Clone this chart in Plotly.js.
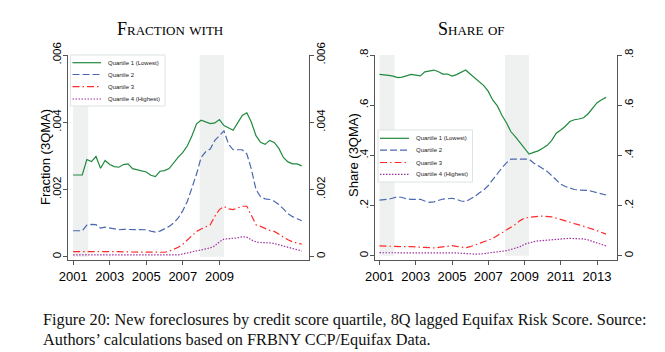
<!DOCTYPE html>
<html><head><meta charset="utf-8">
<script src="https://cdn.plot.ly/plotly-3.0.1.min.js"></script>
<style>html,body{margin:0;padding:0;background:#fff}#chart{width:665px;height:352px}</style>
</head><body><div id="chart"></div>
<script>
// quarterly dates 2001Q1 .. 2013Q3
const quarters = Array.from({length: 51}, (_, i) => 2001 + i / 4);

const seriesNames = ['Quartile 1 (Lowest)', 'Quartile 2', 'Quartile 3', 'Quartile 4 (Highest)'];
const seriesColors = ['#1f8a3e', '#4a67b0', '#ff2a2a', '#a030a0'];
const seriesDashes = ['solid', '7px,3px', '7px,3px,1.5px,3px', '1.5px,1.5px'];

const fracQ1 = [.00243,.00243,.00243,.00289,.00283,.00298,.00263,.00286,.00274,.00268,.00266,.00274,
 .00276,.00262,.00258,.00256,.00252,.00242,.00238,.00254,.00256,.00262,.00280,.00296,
 .00310,.00330,.00360,.00395,.00406,.00402,.00396,.00398,.00408,.00390,.00384,.00376,
 .00398,.00420,.00428,.00400,.00360,.00340,.00334,.00346,.00340,.00322,.00295,.00282,
 .00276,.00276,.00270];
const fracQ2 = [.00077,.00077,.00077,.00094,.00096,.00095,.00085,.00088,.00086,.00083,.00080,.00081,
 .00081,.00080,.00080,.00080,.00080,.00076,.00073,.00076,.00082,.00090,.00100,.00115,
 .00137,.00165,.00205,.00246,.00295,.00312,.00320,.00346,.00360,.00374,.00335,.00318,
 .00318,.00318,.00306,.00260,.00200,.00178,.00172,.00170,.00165,.00155,.00142,.00128,
 .00119,.00112,.00107];
const fracQ3 = [.00015,.00015,.00016,.00017,.00017,.00017,.00016,.00016,.00016,.00015,.00015,.00014,
 .00014,.00014,.00014,.00014,.00013,.00013,.00013,.00013,.00013,.00016,.00022,.00028,
 .00037,.00050,.00063,.00075,.00082,.00088,.00095,.00120,.00140,.00149,.00142,.00140,
 .00145,.00150,.00150,.00120,.00095,.00090,.00083,.00078,.00075,.00066,.00058,.00050,
 .00044,.00040,.00037];
const fracQ4 = [.00005,.00005,.00005,.00005,.00005,.00005,.00005,.00005,.00004,.00004,.00004,.00004,
 .00004,.00004,.00004,.00004,.00004,.00004,.00004,.00003,.00003,.00003,.00003,.00005,
 .00008,.00011,.00013,.00016,.00019,.00022,.00026,.00032,.00044,.00052,.00053,.00054,
 .00056,.00059,.00058,.00050,.00044,.00042,.00042,.00041,.00039,.00035,.00032,.00027,
 .00023,.00019,.00017];

const shareQ1 = [.723,.722,.719,.716,.710,.712,.718,.723,.720,.717,.733,.738,
 .740,.733,.724,.724,.716,.722,.730,.740,.724,.708,.693,.678,
 .655,.620,.597,.560,.530,.494,.474,.450,.428,.405,.412,.418,
 .428,.440,.460,.488,.501,.516,.535,.542,.545,.550,.565,.590,
 .610,.622,.631];
const shareQ2 = [.222,.222,.225,.230,.235,.232,.226,.225,.225,.225,.218,.213,
 .215,.222,.226,.227,.229,.225,.218,.216,.225,.236,.250,.262,
 .280,.305,.325,.350,.370,.385,.385,.384,.386,.385,.370,.360,
 .348,.336,.318,.300,.285,.276,.270,.264,.262,.262,.260,.256,
 .252,.246,.242];
const shareQ3 = [.039,.038,.037,.036,.036,.036,.036,.036,.036,.035,.033,.032,
 .031,.033,.036,.038,.040,.037,.033,.032,.036,.042,.047,.055,
 .062,.069,.080,.092,.103,.112,.125,.140,.150,.153,.156,.157,
 .158,.158,.155,.150,.144,.137,.131,.128,.123,.118,.114,.106,
 .100,.092,.086];
const shareQ4 = [.012,.012,.012,.012,.012,.013,.013,.012,.012,.011,.011,.011,
 .011,.011,.011,.011,.011,.011,.010,.010,.008,.006,.006,.008,
 .011,.013,.015,.017,.020,.025,.030,.036,.046,.052,.056,.059,
 .061,.063,.065,.066,.067,.068,.069,.069,.069,.067,.063,.058,
 .052,.045,.039];

const recessions = [[2001.0, 2001.83], [2007.92, 2009.25]];

const fracTickVals = [0, .002, .004, .006];
const fracTickText = ['0', '.002', '.004', '.006'];
const shareTickVals = [0, .2, .4, .6, .8];
const shareTickText = ['0', '.2', '.4', '.6', '.8'];
const fracYearTicks = [2001, 2003, 2005, 2007, 2009];
const shareYearTicks = [2001, 2003, 2005, 2007, 2009, 2011, 2013];

const panelTitles = ['Fraction with', 'Share of'];
const yTitles = ['Fraction (3QMA)', 'Share (3QMA)'];
const caption1 = 'Figure 20: New foreclosures by credit score quartile, 8Q lagged Equifax Risk Score. Source:';
const caption2 = 'Authors\u2019 calculations based on FRBNY CCP/Equifax Data.';

const W = 665, H = 352;
const px = x => x / W, py = y => 1 - y / H;
const NARROW = '"Liberation Sans Narrow", "Liberation Sans", Arial, sans-serif';
const SANS = '"Liberation Sans", Arial, sans-serif';
const SERIF = '"Liberation Serif", "DejaVu Serif", serif';

const fracSeries = [fracQ1, fracQ2, fracQ3, fracQ4];
const shareSeries = [shareQ1, shareQ2, shareQ3, shareQ4];
const traces = [];
fracSeries.forEach((ys, i) => traces.push({x: quarters, y: ys, xaxis: 'x', yaxis: 'y', type: 'scatter', mode: 'lines',
  name: seriesNames[i], line: {color: seriesColors[i], width: 1.2, dash: seriesDashes[i]}, showlegend: false}));
shareSeries.forEach((ys, i) => traces.push({x: quarters, y: ys, xaxis: 'x2', yaxis: 'y3', type: 'scatter', mode: 'lines',
  name: seriesNames[i], line: {color: seriesColors[i], width: 1.2, dash: seriesDashes[i]}, showlegend: false}));
// invisible copies so the mirrored right-hand axes are drawn
traces.push({x: quarters, y: fracQ1, xaxis: 'x', yaxis: 'y2', type: 'scatter', mode: 'lines', opacity: 0, line: {width: 0}, hoverinfo: 'skip', showlegend: false});
traces.push({x: quarters, y: shareQ1, xaxis: 'x2', yaxis: 'y4', type: 'scatter', mode: 'lines', opacity: 0, line: {width: 0}, hoverinfo: 'skip', showlegend: false});

const axColor = '#555';
const xTickFont = {family: NARROW, size: 13, color: '#000'};
const yTickFont = {family: NARROW, size: 11.5, color: '#000'};
function xAx(dom, range, ticks, anchor) {
  return {domain: dom, range: range, anchor: anchor, tickmode: 'array', tickvals: ticks, ticks: 'outside', ticklen: 4,
    tickcolor: axColor, showline: true, linecolor: axColor, linewidth: 1, showgrid: false, zeroline: false, tickfont: xTickFont};
}
function yAx(dom, range, vals, text, anchor, side, overlay) {
  const a = {domain: dom, range: range, anchor: anchor, side: side, tickmode: 'array', tickvals: vals, ticktext: text,
    tickangle: -90, ticks: 'outside', ticklen: 4, tickcolor: axColor, showline: true, linecolor: axColor, linewidth: 1,
    showgrid: false, zeroline: false, tickfont: yTickFont, ticklabelstandoff: -3};
  if (overlay) a.overlaying = overlay;
  return a;
}
const yDom = [py(260), py(55)];
const layout = {
  width: W, height: H, margin: {l: 0, r: 0, t: 0, b: 0}, paper_bgcolor: '#fff', plot_bgcolor: '#fff', showlegend: false,
  xaxis: xAx([px(68), px(309)], [2000.72, 2013.9], fracYearTicks, 'y'),
  yaxis: yAx(yDom, [-0.0001, 0.006], fracTickVals, fracTickText, 'x', 'left'),
  yaxis2: yAx(yDom, [-0.0001, 0.006], fracTickVals, fracTickText, 'x', 'right', 'y'),
  xaxis2: xAx([px(375), px(617)], [2000.75, 2014.1], shareYearTicks, 'y3'),
  yaxis3: yAx(yDom, [-0.017, 0.8], shareTickVals, shareTickText, 'x2', 'left'),
  yaxis4: yAx(yDom, [-0.017, 0.8], shareTickVals, shareTickText, 'x2', 'right', 'y3'),
  shapes: [], annotations: []
};
recessions.forEach(r => {
  layout.shapes.push({type: 'rect', xref: 'x', yref: 'y', x0: r[0], x1: r[1], y0: 0, y1: 0.006, fillcolor: '#eef1f0', line: {width: 0}, layer: 'below'});
  layout.shapes.push({type: 'rect', xref: 'x2', yref: 'y3', x0: r[0], x1: r[1], y0: 0, y1: 0.8, fillcolor: '#eef1f0', line: {width: 0}, layer: 'below'});
});

// legends (drawn manually to match compact Stata legend)
function legend(box, lineX0, lineX1, textX, rowsY) {
  layout.shapes.push({type: 'rect', xref: 'paper', yref: 'paper', x0: px(box[0]), x1: px(box[1]), y0: py(box[2]), y1: py(box[3]),
    fillcolor: '#fff', line: {color: '#dde3e3', width: 1}});
  seriesNames.forEach((n, i) => {
    layout.shapes.push({type: 'line', xref: 'paper', yref: 'paper', x0: px(lineX0), x1: px(lineX1), y0: py(rowsY[i]), y1: py(rowsY[i]),
      line: {color: seriesColors[i], width: 1.2, dash: seriesDashes[i]}});
    layout.annotations.push({xref: 'paper', yref: 'paper', x: px(textX), y: py(rowsY[i]), xanchor: 'left', yanchor: 'middle',
      text: n, showarrow: false, font: {family: SANS, size: 6, color: '#222'}});
  });
}
legend([70.5, 165, 55, 106], 72.5, 101, 106, [62.7, 74.5, 86.7, 99]);
legend([378, 472.5, 130, 182], 380, 409, 414, [138.3, 150.2, 162.5, 174.3]);

// titles
[[169.5, panelTitles[0]], [471.5, panelTitles[1]]].forEach(t => layout.annotations.push({xref: 'paper', yref: 'paper',
  x: px(t[0]), y: py(29), xanchor: 'center', yanchor: 'middle', text: t[1], showarrow: false,
  font: {family: SERIF, size: 18, variant: 'small-caps', color: '#000'}}));
[[45, 157, yTitles[0]], [353, 155, yTitles[1]]].forEach(t => layout.annotations.push({xref: 'paper', yref: 'paper',
  x: px(t[0]), y: py(t[1]), xanchor: 'center', yanchor: 'middle', text: t[2], textangle: -90, showarrow: false,
  font: {family: NARROW, size: 13, color: '#000'}}));
// caption
[[319, caption1], [339, caption2]].forEach(c => layout.annotations.push({xref: 'paper', yref: 'paper',
  x: px(41), y: py(c[0]), xanchor: 'left', yanchor: 'middle', text: c[1], showarrow: false,
  font: {family: SERIF, size: 16.3, color: '#111'}}));

Plotly.newPlot('chart', traces, layout, {staticPlot: true, displayModeBar: false});
</script>
</body></html>
